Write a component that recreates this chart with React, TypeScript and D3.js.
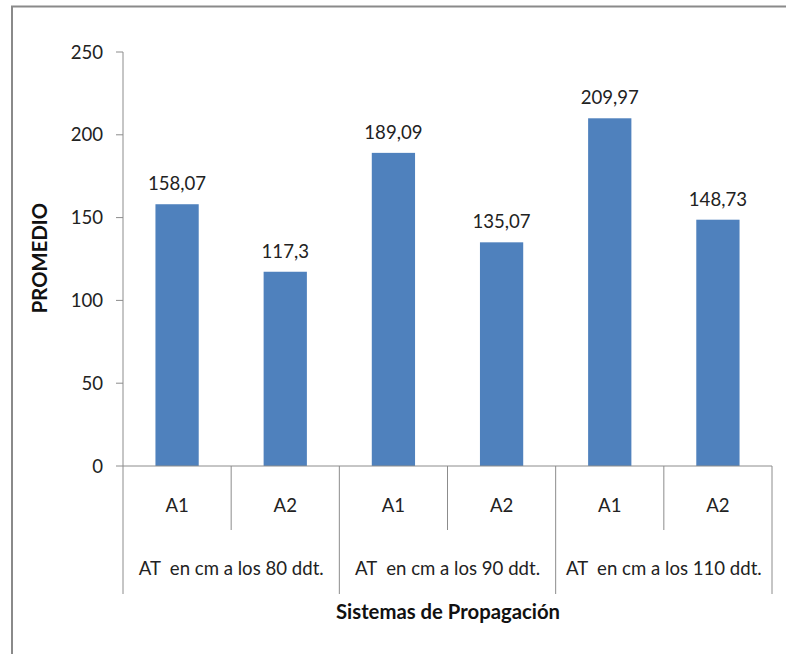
import React from "react";
import * as d3 from "d3";

const groups = ["AT  en cm a los 80 ddt.", "AT  en cm a los 90 ddt.", "AT  en cm a los 110 ddt."];
const subCategories = ["A1", "A2"];
const values = [158.07, 117.3, 189.09, 135.07, 209.97, 148.73];
const valueLabels = ["158,07", "117,3", "189,09", "135,07", "209,97", "148,73"];
const yTicks = [0, 50, 100, 150, 200, 250];

const W = 786;
const H = 654;
const left = 123;
const right = 772;
const top = 52;
const bottom = 466;
const font = "Lato, 'Open Sans', sans-serif";
const axisColor = "#8c8c8c";
const barColor = "#4f81bd";
const fs = 18.6;
const fsBold = 20.3;

export default function App() {
  const rows = values.map((v, i) => ({
    key: `${i}`,
    sub: subCategories[i % 2],
    group: Math.floor(i / 2),
    value: v,
    label: valueLabels[i],
  }));

  const x = d3.scaleBand<string>().domain(rows.map((r) => r.key)).range([left, right]).paddingInner(0.6).paddingOuter(0.3);
  const band = d3.scaleBand<string>().domain(rows.map((r) => r.key)).range([left, right]).padding(0);
  const y = d3.scaleLinear().domain([0, 250]).range([bottom, top]);
  const groupW = (right - left) / groups.length;

  return (
    <svg width={W} height={H} style={{ position: "absolute", left: 0, top: 0, background: "#fff" }}>
      <rect x={0} y={0} width={W} height={H} fill="#fff" />
      {/* outer frame */}
      <path d={`M12,${H + 2} L12,6.5 L${W + 2},6.5`} fill="none" stroke="#8a8a8a" strokeWidth={2} />

      {/* y axis */}
      <line x1={left} x2={left} y1={y(250)} y2={bottom} stroke={axisColor} strokeWidth={1} />
      {yTicks.map((t) => (
        <g key={t}>
          <line x1={left - 7} x2={left} y1={y(t)} y2={y(t)} stroke={axisColor} strokeWidth={1} />
          <text x={left - 20} y={y(t)} dy="0.35em" textAnchor="end" fontFamily={font} fontSize={fs} fill="#222">
            {t}
          </text>
        </g>
      ))}
      <text
        transform={`translate(47,258) rotate(-90)`}
        textAnchor="middle"
        fontFamily={font}
        fontWeight="bold"
        fontSize={fsBold}
        fill="#111"
      >
        PROMEDIO
      </text>

      {/* bars */}
      {rows.map((r) => (
        <g key={r.key}>
          <rect x={x(r.key)} y={y(r.value)} width={x.bandwidth()} height={bottom - y(r.value)} fill={barColor} />
          <text
            x={(x(r.key) as number) + x.bandwidth() / 2}
            y={y(r.value) - 14}
            textAnchor="middle"
            fontFamily={font}
            fontSize={fs}
            fill="#222"
          >
            {r.label}
          </text>
        </g>
      ))}

      {/* x axis with two-level categories */}
      <line x1={left} x2={right} y1={bottom} y2={bottom} stroke={axisColor} strokeWidth={1} />
      {rows.map((r, i) => {
        const bx = band(r.key) as number;
        const isGroupEdge = i % 2 === 0;
        return (
          <g key={`t${r.key}`}>
            <line x1={bx} x2={bx} y1={bottom} y2={isGroupEdge ? 594 : 530} stroke={axisColor} strokeWidth={1} />
            <text x={bx + band.bandwidth() / 2} y={512} textAnchor="middle" fontFamily={font} fontSize={fs} fill="#222">
              {r.sub}
            </text>
          </g>
        );
      })}
      <line x1={right} x2={right} y1={bottom} y2={594} stroke={axisColor} strokeWidth={1} />
      {groups.map((g, i) => (
        <text
          key={g}
          x={left + groupW * (i + 0.5)}
          y={575}
          textAnchor="middle"
          fontFamily={font}
          fontSize={fs}
          fill="#222"
          style={{ whiteSpace: "pre" }}
        >
          {g}
        </text>
      ))}
      <text x={448} y={619} textAnchor="middle" fontFamily={font} fontWeight="bold" fontSize={fsBold} fill="#111">
        Sistemas de Propagación
      </text>
    </svg>
  );
}
